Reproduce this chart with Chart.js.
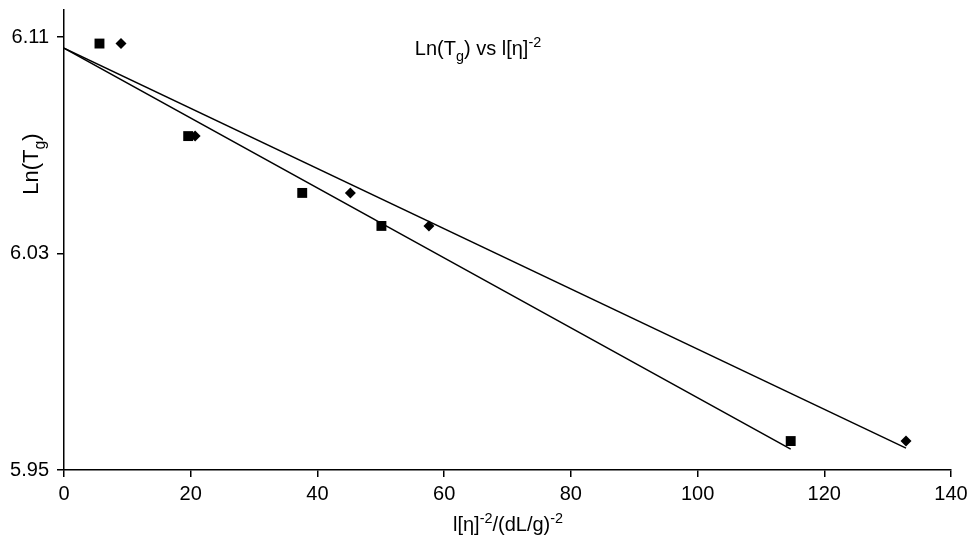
<!DOCTYPE html>
<html>
<head>
<meta charset="utf-8">
<script src="https://cdn.jsdelivr.net/npm/chart.js@4/dist/chart.umd.min.js"></script>
<style>
  html, body { margin: 0; padding: 0; background: #fff; }
  #wrap { width: 972px; height: 548px; }
</style>
</head>
<body>
<div id="wrap"><canvas id="c" width="972" height="548"></canvas></div>
<script>
// ---- data ----
const squareX = [5.6, 19.6, 37.6, 50.1, 114.7];
const squareY = [6.1076, 6.0734, 6.0524, 6.0402, 5.9607];
const diamondX = [9.0, 20.7, 45.2, 57.6, 132.9];
const diamondY = [6.1076, 6.0734, 6.0524, 6.0402, 5.9607];
const squareFitX = [0, 114.7];
const squareFitY = [6.1059, 5.9577];
const diamondFitX = [0, 132.9];
const diamondFitY = [6.1059, 5.9581];
const yTickValues = [5.95, 6.03, 6.11];
const xTickStep = 20;

const pts = (xs, ys) => xs.map((x, i) => ({ x: x, y: ys[i] }));

const FONT = '"Liberation Sans", Arial, sans-serif';

function drawRich(ctx, parts, x, y, size) {
  let w = 0;
  parts.forEach(p => {
    const s = p.sub || p.sup ? size * 0.72 : size;
    ctx.font = s + 'px ' + FONT;
    p._w = ctx.measureText(p.t).width;
    w += p._w;
  });
  let cx = x - w / 2;
  parts.forEach(p => {
    const s = p.sub || p.sup ? size * 0.72 : size;
    ctx.font = s + 'px ' + FONT;
    let dy = 0;
    if (p.sub) dy = size * 0.3;
    if (p.sup) dy = -size * 0.42;
    ctx.fillText(p.t, cx, y + dy);
    cx += p._w;
  });
}

const textPlugin = {
  id: 'texts',
  afterDraw(chart) {
    const ctx = chart.ctx;
    ctx.save();
    ctx.fillStyle = '#000';
    ctx.textBaseline = 'alphabetic';
    ctx.textAlign = 'left';
    drawRich(ctx, [
      { t: 'Ln(T' }, { t: 'g', sub: true }, { t: ') vs l[η]' }, { t: '-2', sup: true }
    ], 478, 55, 20);
    drawRich(ctx, [
      { t: 'l[η]' }, { t: '-2', sup: true }, { t: '/(dL/g)' }, { t: '-2', sup: true }
    ], 508, 531, 20);
    ctx.translate(38, 164);
    ctx.rotate(-Math.PI / 2);
    drawRich(ctx, [
      { t: 'Ln(T' }, { t: 'g', sub: true }, { t: ')' }
    ], 0, 0, 22);
    ctx.restore();
  }
};

new Chart(document.getElementById('c'), {
  type: 'scatter',
  data: {
    datasets: [
      {
        label: 'fit squares', type: 'line', data: pts(squareFitX, squareFitY),
        borderColor: '#000', borderWidth: 1.5, pointRadius: 0, fill: false, order: 2
      },
      {
        label: 'fit diamonds', type: 'line', data: pts(diamondFitX, diamondFitY),
        borderColor: '#000', borderWidth: 1.5, pointRadius: 0, fill: false, order: 2
      },
      {
        label: 'squares', data: pts(squareX, squareY),
        pointStyle: 'rect', pointRadius: 7, backgroundColor: '#000', borderColor: '#000', borderWidth: 0, order: 1
      },
      {
        label: 'diamonds', data: pts(diamondX, diamondY),
        pointStyle: 'rectRot', pointRadius: 5.5, backgroundColor: '#000', borderColor: '#000', borderWidth: 0, order: 1
      }
    ]
  },
  options: {
    responsive: false,
    animation: false,
    events: [],
    layout: { padding: { top: 10, right: 21, left: 0, bottom: 0 } },
    plugins: { legend: { display: false }, tooltip: { enabled: false }, title: { display: false } },
    scales: {
      x: {
        type: 'linear', min: 0, max: 140,
        ticks: { stepSize: xTickStep, color: '#000', font: { family: FONT, size: 20 }, padding: 5 },
        grid: { display: true, drawOnChartArea: false, drawTicks: true, tickLength: 7, color: '#000', lineWidth: 1.5 },
        border: { display: true, color: '#000', width: 1.5 },
        afterFit(scale) { scale.height = 78; scale.paddingLeft = 0; scale.paddingRight = 0; }
      },
      y: {
        type: 'linear', min: 5.95, max: 6.12,
        afterBuildTicks(scale) { scale.ticks = yTickValues.map(v => ({ value: v })); },
        ticks: { color: '#000', font: { family: FONT, size: 20 }, padding: 8,
          callback: v => Number(v).toFixed(2) },
        grid: { display: true, drawOnChartArea: false, drawTicks: true, tickLength: 7, color: '#000', lineWidth: 1.5 },
        border: { display: true, color: '#000', width: 1.5 },
        afterFit(scale) { scale.width = 64; scale.paddingTop = 0; scale.paddingBottom = 0; }
      }
    }
  },
  plugins: [textPlugin]
});
</script>
</body>
</html>
